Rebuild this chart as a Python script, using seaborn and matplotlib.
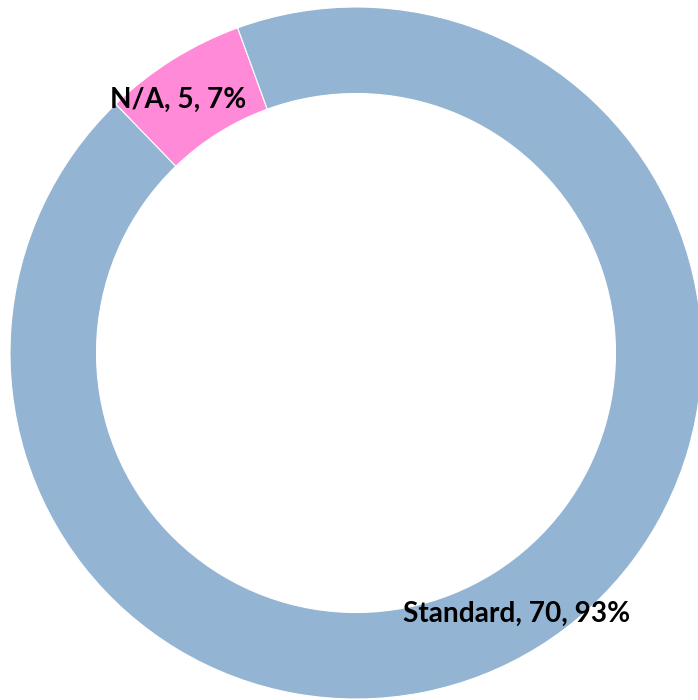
import matplotlib
matplotlib.use("Agg")
import matplotlib.pyplot as plt
import seaborn as sns
import numpy as np

categorias = ["N/A", "Standard"]
valores = [5, 70]
colores = ["#FF8AD8", "#94B4D3"]

sns.set_theme(style="white")
plt.rcParams["font.family"] = ["Lato", "DejaVu Sans"]

total = sum(valores)
etiquetas = [f"{c}, {v}, {round(v / total * 100)}%" for c, v in zip(categorias, valores)]

fig = plt.figure(figsize=(6.98, 7.0), dpi=100)
ax = fig.add_axes([10 / 698, 1 / 700, 692 / 698, 692 / 700])

wedges, textos = ax.pie(
    valores,
    labels=etiquetas,
    colors=colores,
    startangle=110,
    counterclock=True,
    radius=1.0,
    labeldistance=0.875,
    wedgeprops=dict(width=0.25, edgecolor="white", linewidth=0.8),
    textprops=dict(fontsize=20.2, fontweight="bold", color="black",
                   ha="center", va="center"),
)
for t in textos:
    t.set_ha("center")
    t.set_va("center")
# pequeños ajustes de las etiquetas respecto al centro de cada cuña
x, y = textos[0].get_position()
textos[0].set_position((x - 0.05, y - 0.01))
x, y = textos[1].get_position()
textos[1].set_position((x, y - 0.012))

ax.set_xlim(-1, 1)
ax.set_ylim(-1, 1)
ax.set_aspect("equal")
ax.axis("off")

plt.savefig("out.png", dpi=100)
plt.close()
